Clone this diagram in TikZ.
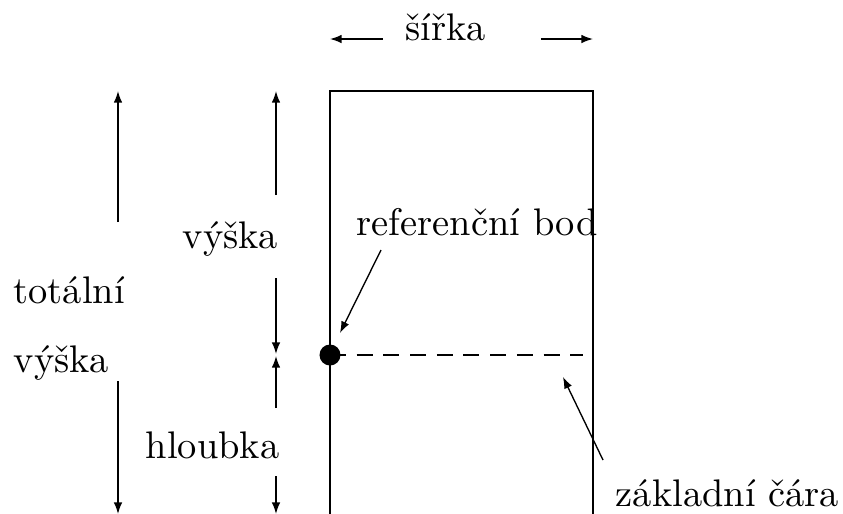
\documentclass[tikz,border=0pt]{standalone}
\usepackage{fontspec}
\usetikzlibrary{arrows.meta}
\begin{document}
\begin{tikzpicture}[x=0.26pt,y=-0.26pt,
  lbl/.style={inner sep=0pt,anchor=base west},
  dim/.style={-{Latex[length=3pt,width=2.2pt]},line width=0.35pt},
  wall/.style={line width=0.35pt}]
\useasboundingbox (0,0) rectangle (843,514);
% box
\coordinate (tl) at (330,91);
\coordinate (tr) at (593,91);
\coordinate (bl) at (330,514);
\coordinate (br) at (593,514);
\draw[wall] (bl) -- (tl) -- (tr) -- (br);
% dot and baseline
\coordinate (dotc) at (330,355);
\coordinate (dashend) at (583,355);
\draw[wall,dash pattern=on 16*0.26pt off 10.7*0.26pt] (dotc) -- (dashend);
\node[circle,fill=black,inner sep=0pt,minimum size=21*0.26pt] (dot) at (dotc) {};
% width
\node[lbl] (sirka) at (405,40) {šířka};
\coordinate (wl1) at (383,39);
\coordinate (wr1) at (541,39);
\draw[dim] (wl1) -- (tl |- wl1);
\draw[dim] (wr1) -- (tr |- wr1);
% total height
\node[lbl] (tot) at (13,303) {totální};
\node[lbl] (tvys) at (13,372) {výška};
\coordinate (t1) at (118,222);
\coordinate (t1e) at (118,91);
\coordinate (t2) at (118,381);
\coordinate (t2e) at (118,514);
\draw[dim] (t1) -- (t1e);
\draw[dim] (t2) -- (t2e);
% height
\node[lbl] (vys) at (182,248) {výška};
\coordinate (h1) at (276,195);
\coordinate (h1e) at (276,91);
\coordinate (h2) at (276,278);
\coordinate (h2e) at (276,354);
\draw[dim] (h1) -- (h1e);
\draw[dim] (h2) -- (h2e);
% depth
\node[lbl] (hl) at (145,458) {hloubka};
\coordinate (d1) at (276,408);
\coordinate (d1e) at (276,356);
\coordinate (d2) at (276,476);
\coordinate (d2e) at (276,514);
\draw[dim] (d1) -- (d1e);
\draw[dim] (d2) -- (d2e);
% reference point
\node[lbl] (ref) at (356,235) {referenční bod};
\coordinate (r1) at (381,250);
\coordinate (r1e) at (340,333);
\draw[dim] (r1) -- (r1e);
% base line label
\node[lbl] (zak) at (615,506) {základní čára};
\coordinate (z1) at (603,460);
\coordinate (z1e) at (563,377);
\draw[dim] (z1) -- (z1e);
\end{tikzpicture}
\end{document}
